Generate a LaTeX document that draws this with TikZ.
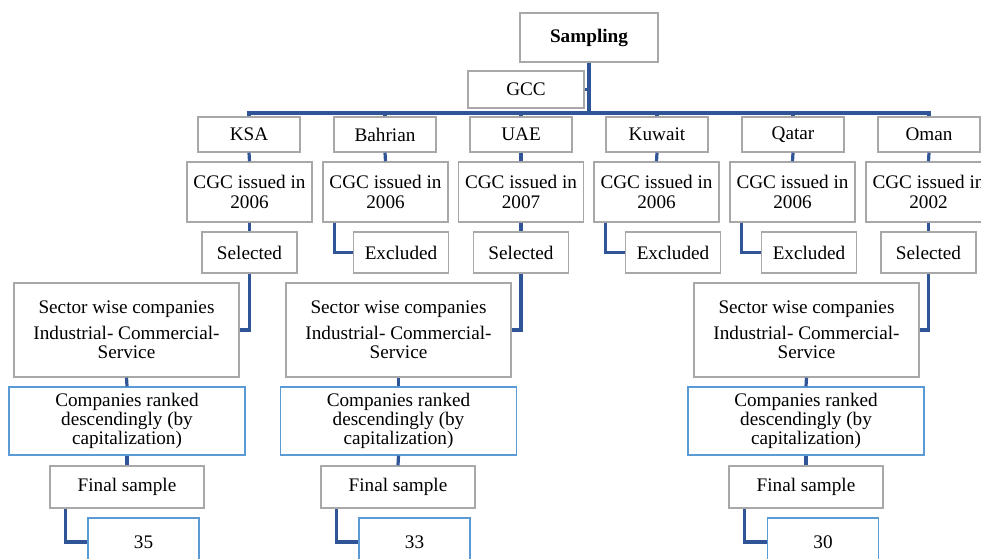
\documentclass[tikz,border=0pt]{standalone}
\usepackage{fontspec}
\setmainfont{Liberation Serif}
\usepackage{tikz}
\usetikzlibrary{positioning,calc}
\definecolor{linkblue}{RGB}{47,85,151}
\definecolor{boxgray}{RGB}{168,168,168}
\definecolor{lightblue}{RGB}{91,155,213}

\begin{document}
\begin{tikzpicture}[
    x=0.75pt, y=-0.75pt,
    font=\fontsize{14.4}{14.4}\selectfont,
    box/.style={rectangle, draw=boxgray, line width=1.1pt, fill=white, inner sep=0pt, align=center},
    bluebox/.style={box, draw=lightblue},
    country/.style={box, minimum width=76.5pt, minimum height=26.25pt},
    cgc/.style={box, minimum width=93.75pt, minimum height=45pt},
    choice/.style={box, minimum width=71pt, minimum height=30.75pt},
    sector/.style={box, minimum width=168.75pt, minimum height=70.5pt},
    ranked/.style={bluebox, minimum width=177pt, minimum height=51pt},
    final/.style={box, minimum width=115.5pt, minimum height=31.5pt},
    count/.style={bluebox, minimum width=83.25pt, minimum height=36pt},
    line/.style={draw=linkblue, line width=2.4pt}
]
\useasboundingbox (0,0) rectangle (981,559);

% Nodes
\node[box, minimum width=103.5pt, minimum height=36.75pt] (samp) at (589,37.5) {\textbf{Sampling}};
\node[box, minimum width=87pt, minimum height=27.75pt] (gcc) at (526,89.5) {GCC};
\coordinate (bus) at (589,113);

\node[country] (ksa) at (249,134.5) {KSA};
\node[country] (bah) at (385,134.5) {Bahrian};
\node[country] (uae) at (521,134.5) {UAE};
\node[country] (kuw) at (657,134.5) {Kuwait};
\node[country] (qat) at (793,134.5) {Qatar};
\node[country] (omn) at (929,134.5) {Oman};

\node[cgc] (cgcK) at (249.5,192) {CGC issued in\\2006};
\node[cgc] (cgcB) at (385.5,192) {CGC issued in\\2006};
\node[cgc] (cgcU) at (521,192) {CGC issued in\\2007};
\node[cgc] (cgcW) at (656.5,192) {CGC issued in\\2006};
\node[cgc] (cgcQ) at (792.5,192) {CGC issued in\\2006};
\node[cgc] (cgcO) at (928.5,192) {CGC issued in\\2002};

\node[choice] (selK) at (249.5,252.5) {Selected};
\node[choice] (excB) at (401,252.5) {Excluded};
\node[choice] (selU) at (521,252.5) {Selected};
\node[choice] (excW) at (673,252.5) {Excluded};
\node[choice] (excQ) at (809,252.5) {Excluded};
\node[choice] (selO) at (928.5,252.5) {Selected};

\node[sector] (secK) at (126.5,330) {Sector wise companies\\[5pt]Industrial- Commercial-\\Service};
\node[sector] (secU) at (398.5,330) {Sector wise companies\\[5pt]Industrial- Commercial-\\Service};
\node[sector] (secO) at (806.5,330) {Sector wise companies\\[5pt]Industrial- Commercial-\\Service};

\node[ranked] (rnkK) at (127,421) {Companies ranked\\descendingly (by\\capitalization)};
\node[ranked] (rnkU) at (398.5,421) {Companies ranked\\descendingly (by\\capitalization)};
\node[ranked] (rnkO) at (806,421) {Companies ranked\\descendingly (by\\capitalization)};

\node[final] (finK) at (127,487) {Final sample};
\node[final] (finU) at (398,487) {Final sample};
\node[final] (finO) at (806,487) {Final sample};

\node[count] (numK) at (143.5,542) {35};
\node[count] (numU) at (414.5,542) {33};
\node[count] (numO) at (823,542) {30};

% Connections
\path[line] (samp.south) -- (bus);
\path[line] (gcc.east) -- (gcc.east -| bus);
\path[line] (ksa.north) |- (bus) -| (omn.north);
\path[line] (bah.north) -- (bah.north |- bus);
\path[line] (uae.north) -- (uae.north |- bus);
\path[line] (kuw.north) -- (kuw.north |- bus);
\path[line] (qat.north) -- (qat.north |- bus);

\path[line] (ksa.south) -- (cgcK.north);
\path[line] (bah.south) -- (cgcB.north);
\path[line] (uae.south) -- (cgcU.north);
\path[line] (kuw.south) -- (cgcW.north);
\path[line] (qat.south) -- (cgcQ.north);
\path[line] (omn.south) -- (cgcO.north);

\path[line] (cgcK.south) -- (selK.north);
\path[line] (cgcU.south) -- (selU.north);
\path[line] (cgcO.south) -- (selO.north);
\path[line] ($(cgcB.south west)+(12,0)$) |- (excB.west);
\path[line] ($(cgcW.south west)+(12,0)$) |- (excW.west);
\path[line] ($(cgcQ.south west)+(12,0)$) |- (excQ.west);

\path[line] (selK.south) |- (secK.east);
\path[line] (selU.south) |- (secU.east);
\path[line] (selO.south) |- (secO.east);

\path[line] (secK.south) -- (rnkK.north);
\path[line] (secU.south) -- (rnkU.north);
\path[line] (secO.south) -- (rnkO.north);
\path[line] (rnkK.south) -- (finK.north);
\path[line] (rnkU.south) -- (finU.north);
\path[line] (rnkO.south) -- (finO.north);

\path[line] ($(finK.south west)+(16,0)$) |- (numK.west);
\path[line] ($(finU.south west)+(16,0)$) |- (numU.west);
\path[line] ($(finO.south west)+(16,0)$) |- (numO.west);

\end{tikzpicture}
\end{document}
